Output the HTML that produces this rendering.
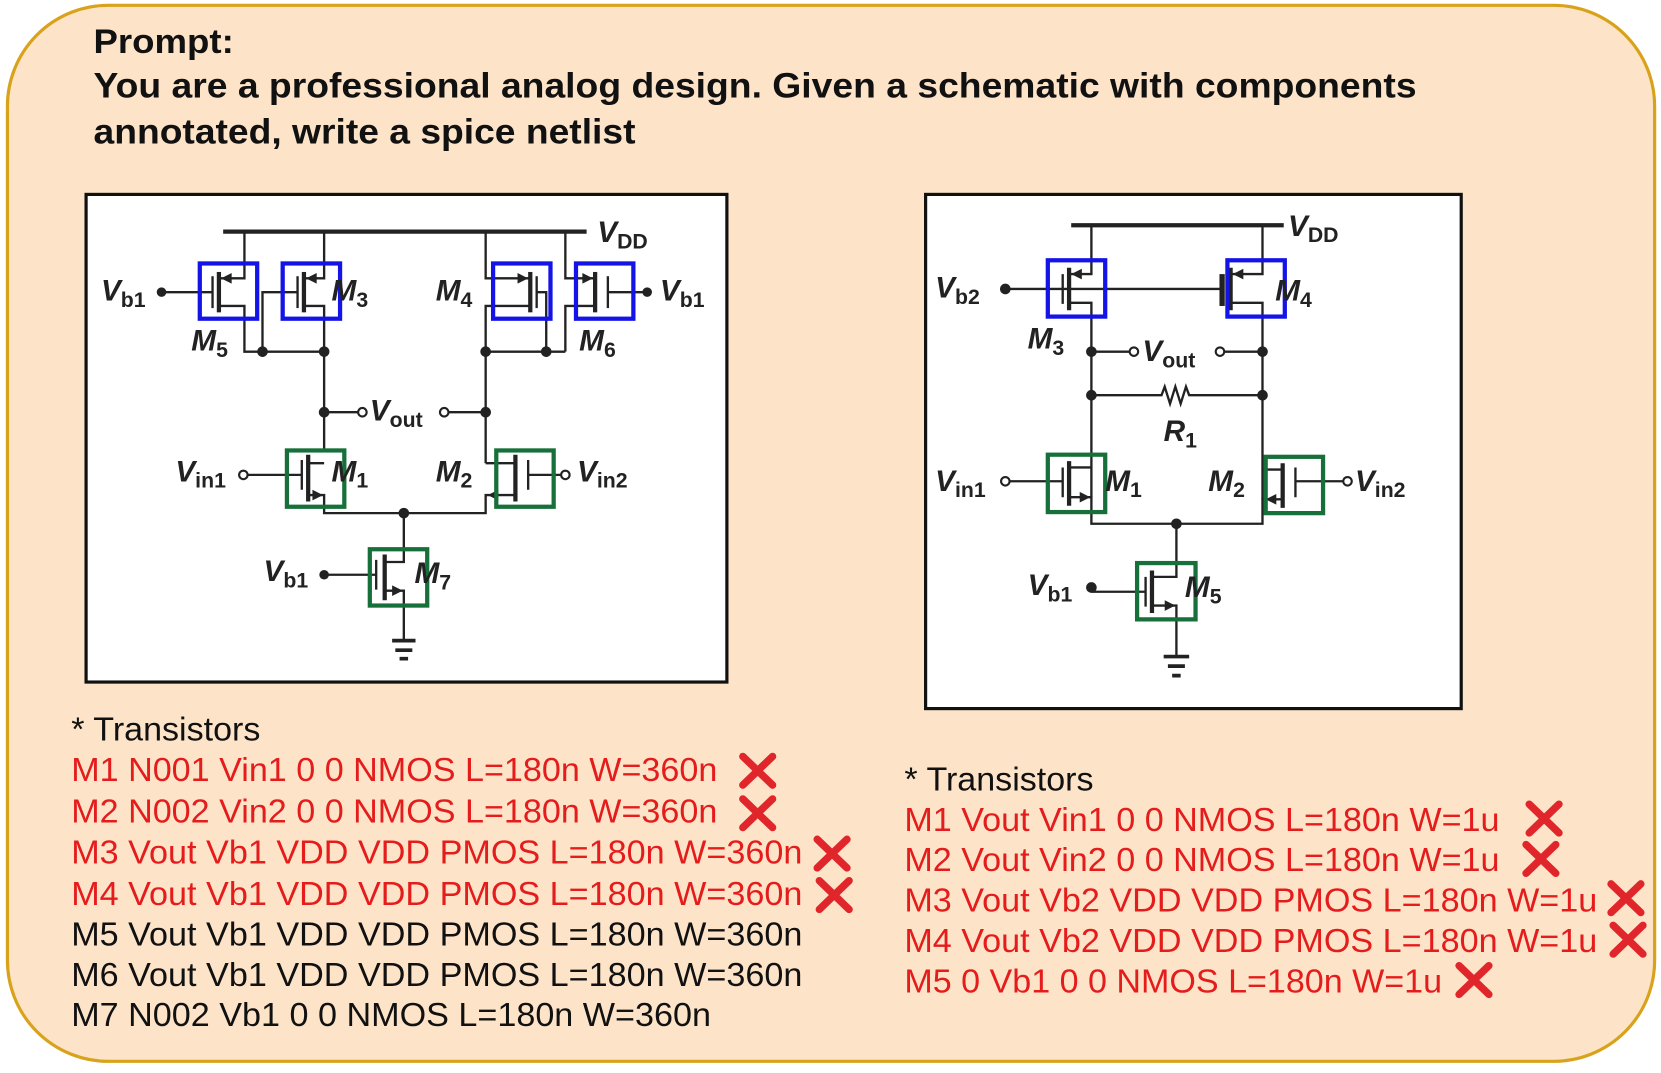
<!DOCTYPE html>
<html><head><meta charset="utf-8"><style>
html,body{margin:0;padding:0;background:#fff;width:1661px;height:1073px;overflow:hidden}
svg{display:block}
text{font-family:"Liberation Sans",Arial,sans-serif}
.b{stroke:#1414e6;stroke-width:4;fill:none}
.g{stroke:#17703a;stroke-width:4;fill:none}
.w{stroke:#222;stroke-width:2.2;fill:none}
.ch{stroke:#222;stroke-width:4}
.lab{font-style:italic;font-weight:bold;font-size:28px;fill:#222}
.sub{font-size:20px;font-style:normal}
.t{font-size:31px}
.r{fill:#e51c1c}
.k{fill:#111}
.x{stroke:#e0262a;stroke-width:7;stroke-linecap:round}
</style></head><body>
<svg width="1661" height="1073" viewBox="0 0 1563 1010" preserveAspectRatio="none" xmlns="http://www.w3.org/2000/svg">
<rect x="7" y="5" width="1550" height="994" rx="95" fill="#fde4c9" stroke="#d9a21b" stroke-width="3"/>
<text x="88" y="50" font-weight="bold" font-size="32" fill="#111" textLength="132" lengthAdjust="spacingAndGlyphs">Prompt:</text>
<text x="88" y="92" font-weight="bold" font-size="33" fill="#111" textLength="1245" lengthAdjust="spacingAndGlyphs">You are a professional analog design. Given a schematic with components</text>
<text x="88" y="135" font-weight="bold" font-size="33" fill="#111" textLength="510" lengthAdjust="spacingAndGlyphs">annotated, write a spice netlist</text>

<!-- LEFT SCHEMATIC -->
<rect x="81" y="183" width="603" height="459" fill="#fff" stroke="#111" stroke-width="3"/>
<line x1="210" y1="218" x2="552" y2="218" stroke="#222" stroke-width="4"/>
<text x="562" y="228" class="lab">V<tspan class="sub" dy="6" font-style="italic">DD</tspan></text>
<!-- M5 -->
<line class="w" x1="152" y1="275" x2="200" y2="275"/><circle cx="152" cy="275" r="4.5" fill="#222"/>
<line class="w" x1="200" y1="260" x2="200" y2="290"/><line class="ch" x1="206" y1="256" x2="206" y2="294"/>
<path class="w" d="M206 262H230V218M206 288H230V331H305"/>
<polygon points="208,262 218,257 218,267" fill="#222"/>
<rect class="b" x="188" y="248" width="54" height="52"/>
<!-- M3 -->
<line class="w" x1="280" y1="260" x2="280" y2="290"/><line class="ch" x1="286" y1="256" x2="286" y2="294"/>
<path class="w" d="M286 262H305V218M286 288H305V425M280 275H247V331"/>
<polygon points="288,262 298,257 298,267" fill="#222"/>
<rect class="b" x="266" y="248" width="54" height="52"/>
<!-- M4 -->
<line class="w" x1="505" y1="260" x2="505" y2="290"/><line class="ch" x1="499" y1="256" x2="499" y2="294"/>
<path class="w" d="M499 262H457V218M499 288H457V436M505 275H514V331M457 331H532"/>
<polygon points="497,262 487,257 487,267" fill="#222"/>
<rect class="b" x="464" y="248" width="54" height="52"/>
<!-- M6 -->
<line class="w" x1="572" y1="260" x2="572" y2="290"/><line class="ch" x1="560" y1="256" x2="560" y2="294"/>
<path class="w" d="M560 262H532V218M560 288H532V331M572 275H609"/>
<polygon points="558,262 548,257 548,267" fill="#222"/>
<rect class="b" x="542" y="248" width="54" height="52"/>
<circle cx="609" cy="275" r="4.5" fill="#222"/>
<g fill="#222"><circle cx="247" cy="331" r="5"/><circle cx="305" cy="331" r="5"/><circle cx="457" cy="331" r="5"/><circle cx="514" cy="331" r="5"/><circle cx="305" cy="388" r="5"/><circle cx="457" cy="388" r="5"/><circle cx="380" cy="483" r="5"/></g>
<path class="w" d="M305 388H337M422 388H457"/>
<circle cx="341" cy="388" r="4" fill="#fff" stroke="#222" stroke-width="2"/><circle cx="418" cy="388" r="4" fill="#fff" stroke="#222" stroke-width="2"/>
<text x="348" y="396" class="lab">V<tspan class="sub" dy="6">out</tspan></text>
<!-- M1 -->
<path class="w" d="M233 447H284M284 433V461"/><line class="ch" x1="290" y1="428" x2="290" y2="472"/>
<path class="w" d="M290 436H305M290 466H305V483H457V466H485M457 436H485"/>
<polygon points="304,466 294,461 294,471" fill="#222"/>
<circle cx="229" cy="447" r="4" fill="#fff" stroke="#222" stroke-width="2"/>
<rect class="g" x="270" y="424" width="54" height="53"/>
<!-- M2 -->
<line class="ch" x1="485" y1="428" x2="485" y2="472"/><path class="w" d="M497 433V461M497 447H528"/>
<polygon points="459,466 469,461 469,471" fill="#222"/>
<circle cx="532" cy="447" r="4" fill="#fff" stroke="#222" stroke-width="2"/>
<rect class="g" x="467" y="424" width="54" height="53"/>
<!-- M7 -->
<path class="w" d="M380 483V529H362M362 556H380V602M305 541H354M354 527V555"/><line class="ch" x1="362" y1="522" x2="362" y2="565"/>
<polygon points="379,556 369,551 369,561" fill="#222"/>
<circle cx="305" cy="541" r="4.5" fill="#222"/>
<rect class="g" x="348" y="517" width="54" height="53"/>
<path d="M369 603H391M372 612H388M376 620H384" stroke="#222" stroke-width="3.5"/>
<!-- left labels -->
<text x="95" y="283" class="lab">V<tspan class="sub" dy="6">b1</tspan></text>
<text x="621" y="283" class="lab">V<tspan class="sub" dy="6">b1</tspan></text>
<text x="180" y="330" class="lab">M<tspan class="sub" dy="6">5</tspan></text>
<text x="545" y="330" class="lab">M<tspan class="sub" dy="6">6</tspan></text>
<text x="312" y="283" class="lab">M<tspan class="sub" dy="6">3</tspan></text>
<text x="410" y="283" class="lab">M<tspan class="sub" dy="6">4</tspan></text>
<text x="165" y="453" class="lab">V<tspan class="sub" dy="6">in1</tspan></text>
<text x="543" y="453" class="lab">V<tspan class="sub" dy="6">in2</tspan></text>
<text x="312" y="453" class="lab">M<tspan class="sub" dy="6">1</tspan></text>
<text x="410" y="453" class="lab">M<tspan class="sub" dy="6">2</tspan></text>
<text x="248" y="547" class="lab">V<tspan class="sub" dy="6">b1</tspan></text>
<text x="390" y="549" class="lab">M<tspan class="sub" dy="6">7</tspan></text>

<!-- RIGHT SCHEMATIC -->
<rect x="871" y="183" width="504" height="484" fill="#fff" stroke="#111" stroke-width="3"/>
<line x1="1008" y1="212" x2="1208" y2="212" stroke="#222" stroke-width="4"/>
<text x="1212" y="222" class="lab">V<tspan class="sub" dy="6" font-style="italic">DD</tspan></text>
<path class="w" d="M950 272H1150M1000 258V286M1006 258H1027V212M1006 285H1027V468M1158 258H1188V212M1158 285H1188V470"/>
<line class="ch" x1="1006" y1="252" x2="1006" y2="292"/><line class="ch" x1="1158" y1="252" x2="1158" y2="292"/>
<line x1="1150" y1="258" x2="1150" y2="288" stroke="#222" stroke-width="5"/>
<polygon points="1008,258 1018,253 1018,263" fill="#222"/><polygon points="1160,258 1170,253 1170,263" fill="#222"/>
<circle cx="946" cy="272" r="5" fill="#222"/>
<rect class="b" x="986" y="245" width="54" height="53"/>
<rect class="b" x="1155" y="245" width="54" height="53"/>
<path class="w" d="M1027 331H1063M1152 331H1188M1027 372H1093l3 -8 5 16 5 -16 5 16 5 -16 3 8H1188"/>
<circle cx="1067" cy="331" r="4" fill="#fff" stroke="#222" stroke-width="2"/><circle cx="1148" cy="331" r="4" fill="#fff" stroke="#222" stroke-width="2"/>
<g fill="#222"><circle cx="1027" cy="331" r="5"/><circle cx="1188" cy="331" r="5"/><circle cx="1027" cy="372" r="5"/><circle cx="1188" cy="372" r="5"/><circle cx="1107" cy="493" r="5"/><circle cx="1027" cy="553" r="5"/></g>
<text x="1075" y="340" class="lab">V<tspan class="sub" dy="6">out</tspan></text>
<text x="1095" y="415" class="lab">R<tspan class="sub" dy="6">1</tspan></text>
<!-- M1 -->
<path class="w" d="M950 453H1000M1000 440V468M1006 440H1027M1006 468H1027V493H1188V470H1207M1188 442H1207M1219 440V468M1219 453H1264"/>
<line class="ch" x1="1006" y1="434" x2="1006" y2="476"/><line class="ch" x1="1207" y1="436" x2="1207" y2="478"/>
<polygon points="1026,468 1016,463 1016,473" fill="#222"/><polygon points="1191,470 1201,465 1201,475" fill="#222"/>
<circle cx="946" cy="453" r="4" fill="#fff" stroke="#222" stroke-width="2"/><circle cx="1268" cy="453" r="4" fill="#fff" stroke="#222" stroke-width="2"/>
<rect class="g" x="986" y="428" width="54" height="54"/>
<rect class="g" x="1191" y="430" width="54" height="53"/>
<!-- M5 -->
<path class="w" d="M1107 493V543H1084M1084 570H1107V617M1027 557H1078M1078 543V571"/>
<line class="ch" x1="1084" y1="537" x2="1084" y2="577"/>
<polygon points="1106,570 1096,565 1096,575" fill="#222"/>
<rect class="g" x="1070" y="530" width="55" height="53"/>
<path d="M1095 618H1119M1099 627H1115M1103 636H1111" stroke="#222" stroke-width="3.5"/>
<text x="880" y="280" class="lab">V<tspan class="sub" dy="6">b2</tspan></text>
<text x="1200" y="283" class="lab">M<tspan class="sub" dy="6">4</tspan></text>
<text x="967" y="328" class="lab">M<tspan class="sub" dy="6">3</tspan></text>
<text x="880" y="462" class="lab">V<tspan class="sub" dy="6">in1</tspan></text>
<text x="1275" y="462" class="lab">V<tspan class="sub" dy="6">in2</tspan></text>
<text x="1040" y="462" class="lab">M<tspan class="sub" dy="6">1</tspan></text>
<text x="1137" y="462" class="lab">M<tspan class="sub" dy="6">2</tspan></text>
<text x="967" y="560" class="lab">V<tspan class="sub" dy="6">b1</tspan></text>
<text x="1115" y="562" class="lab">M<tspan class="sub" dy="6">5</tspan></text>

<!-- NETLISTS LEFT -->
<text x="67" y="697" class="t k" textLength="178" lengthAdjust="spacingAndGlyphs">* Transistors</text>
<text x="67" y="735" class="t r" textLength="608" lengthAdjust="spacingAndGlyphs">M1 N001 Vin1 0 0 NMOS L=180n W=360n</text>
<text x="67" y="774" class="t r" textLength="608" lengthAdjust="spacingAndGlyphs">M2 N002 Vin2 0 0 NMOS L=180n W=360n</text>
<text x="67" y="813" class="t r" textLength="688" lengthAdjust="spacingAndGlyphs">M3 Vout Vb1 VDD VDD PMOS L=180n W=360n</text>
<text x="67" y="852" class="t r" textLength="688" lengthAdjust="spacingAndGlyphs">M4 Vout Vb1 VDD VDD PMOS L=180n W=360n</text>
<text x="67" y="890" class="t k" textLength="688" lengthAdjust="spacingAndGlyphs">M5 Vout Vb1 VDD VDD PMOS L=180n W=360n</text>
<text x="67" y="928" class="t k" textLength="688" lengthAdjust="spacingAndGlyphs">M6 Vout Vb1 VDD VDD PMOS L=180n W=360n</text>
<text x="67" y="966" class="t k" textLength="602" lengthAdjust="spacingAndGlyphs">M7 N002 Vb1 0 0 NMOS L=180n W=360n</text>
<!-- NETLISTS RIGHT -->
<text x="851" y="744" class="t k" textLength="178" lengthAdjust="spacingAndGlyphs">* Transistors</text>
<text x="851" y="782" class="t r" textLength="560" lengthAdjust="spacingAndGlyphs">M1 Vout Vin1 0 0 NMOS L=180n W=1u</text>
<text x="851" y="820" class="t r" textLength="560" lengthAdjust="spacingAndGlyphs">M2 Vout Vin2 0 0 NMOS L=180n W=1u</text>
<text x="851" y="858" class="t r" textLength="652" lengthAdjust="spacingAndGlyphs">M3 Vout Vb2 VDD VDD PMOS L=180n W=1u</text>
<text x="851" y="896" class="t r" textLength="652" lengthAdjust="spacingAndGlyphs">M4 Vout Vb2 VDD VDD PMOS L=180n W=1u</text>
<text x="851" y="934" class="t r" textLength="506" lengthAdjust="spacingAndGlyphs">M5 0 Vb1 0 0 NMOS L=180n W=1u</text>
<!-- X marks -->
<g class="x">
<path d="M699 712L727 739M727 712L699 739"/>
<path d="M699 752L727 779M727 752L699 779"/>
<path d="M769 790L797 817M797 790L769 817"/>
<path d="M771 829L799 856M799 829L771 856"/>
<path d="M1439 757L1467 784M1467 757L1439 784"/>
<path d="M1436 795L1464 822M1464 795L1436 822"/>
<path d="M1516 832L1544 859M1544 832L1516 859"/>
<path d="M1518 871L1546 898M1546 871L1518 898"/>
<path d="M1373 909L1401 936M1401 909L1373 936"/>
</g>
</svg>
</body></html>
